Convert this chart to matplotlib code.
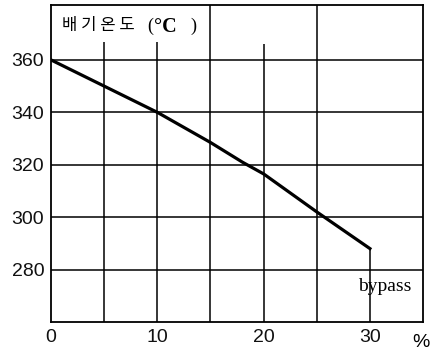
import matplotlib
matplotlib.use("Agg")
import matplotlib.pyplot as plt

# bypass ratio (%) vs exhaust temperature (°C)
bypass = [0, 5, 10, 15, 18, 20, 25, 30]
exhaust_temp = [360, 350, 340, 328.5, 321, 316.5, 302, 288]

x_ticks = [0, 10, 20, 30]
y_ticks = [280, 300, 320, 340, 360]
grid_x = [5, 10, 15, 20, 25, 30]

fig = plt.figure(figsize=(4.33, 3.53), dpi=100)
ax = fig.add_axes([0.118, 0.088, 0.859, 0.898])
ax.set_xlim(0, 35)
ax.set_ylim(260, 381)

# grid: short verticals under the title, the 30% line ends at the curve
tops = {5: 367, 10: 367, 15: 381, 20: 366, 25: 381, 30: exhaust_temp[-1]}
for gx in grid_x:
    ax.vlines(gx, 260, tops[gx], color="black", lw=1.1, zorder=1)
for gy in y_ticks:
    ax.axhline(gy, color="black", lw=1.1, zorder=1)

ax.plot(bypass, exhaust_temp, color="black", lw=2.3, zorder=3)

for s in ax.spines.values():
    s.set_linewidth(1.3)

ax.set_xticks(x_ticks)
ax.set_yticks(y_ticks)
ax.tick_params(length=0, pad=5, labelsize=14)
for lab in ax.get_xticklabels() + ax.get_yticklabels():
    lab.set_family("Liberation Sans")
    lab.set_color("#111111")

# axis title in the top-left corner
ax.text(0.03, 0.935, "배 기 온 도", transform=ax.transAxes,
        family=["Noto Sans CJK KR", "DejaVu Sans"], fontsize=12,
        va="center", ha="left")
ax.text(0.258, 0.933, "(", transform=ax.transAxes,
        family="Liberation Serif", fontsize=13, va="center", ha="left")
ax.text(0.278, 0.93, "°C", transform=ax.transAxes,
        family="Liberation Serif", fontsize=14.5, fontweight="bold",
        va="center", ha="left")
ax.text(0.374, 0.933, ")", transform=ax.transAxes,
        family="Liberation Serif", fontsize=13, va="center", ha="left")

ax.text(0.968, 0.112, "bypass", transform=ax.transAxes,
        family="Liberation Serif", fontsize=14, va="center", ha="right")
ax.text(0.995, -0.065, "%", transform=ax.transAxes,
        family="Liberation Sans", fontsize=14, va="center", ha="center")

fig.savefig("out.png", dpi=100)
